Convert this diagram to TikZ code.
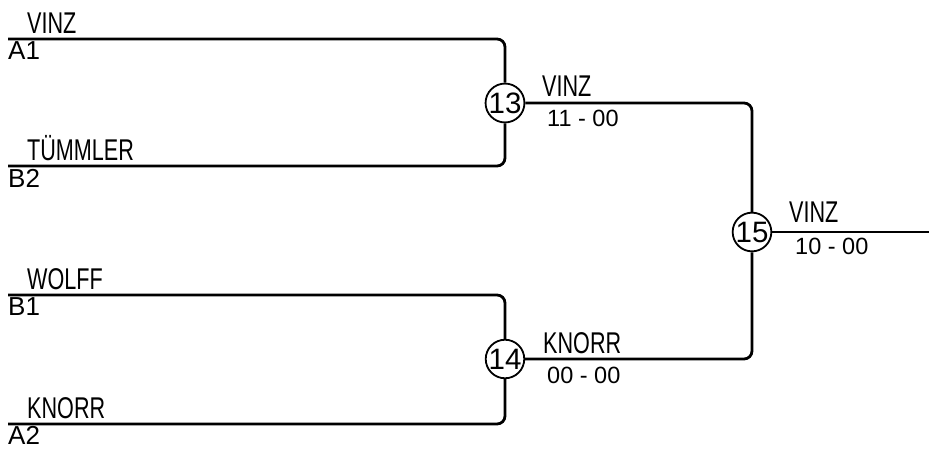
\documentclass[tikz,border=0pt]{standalone}
\usepackage{fontspec}
\setmainfont{Liberation Sans}
\newfontfamily\condfont[FakeStretch=0.72]{Liberation Sans}
\begin{document}
\begin{tikzpicture}[x=1pt,y=-1pt,
  conn/.style={line width=2.8pt, rounded corners=8pt},
  seed/.style={circle, draw, line width=1.8pt, fill=white, minimum size=37pt, inner sep=0pt, font=\fontsize{29.5}{29.5}\selectfont},
  team/.style={anchor=base west, inner sep=0pt, font=\condfont\fontsize{30}{30}\selectfont},
  slot/.style={anchor=base west, inner sep=0pt, font=\fontsize{26}{26}\selectfont},
  score/.style={anchor=base west, inner sep=0pt, font=\fontsize{23.5}{23.5}\selectfont}]
\useasboundingbox (0,0) rectangle (929,448);
% match circles
\node[seed] (m13) at (505,103) {13};
\node[seed] (m14) at (505,359) {14};
\node[seed] (m15) at (752,232) {15};
% line ends
\coordinate (a1) at (8,39);
\coordinate (b2) at (8,166);
\coordinate (b1) at (8,295);
\coordinate (a2) at (8,424);
\coordinate (fin) at (929,232);
% connectors
\draw[conn] (a1) -| (m13);
\draw[conn] (b2) -| (m13);
\draw[conn] (b1) -| (m14);
\draw[conn] (a2) -| (m14);
\draw[conn] (m13.east) -| (m15);
\draw[conn] (m14.east) -| (m15);
\draw[conn] (m15.east) -- (fin);
% left labels
\node[team] (t1) at (27,33) {VINZ};
\node[slot] (s1) at (8,59) {A1};
\node[team] (t2) at (27,160) {TÜMMLER};
\node[slot] (s2) at (8,187) {B2};
\node[team] (t3) at (27,289) {WOLFF};
\node[slot] (s3) at (8,315) {B1};
\node[team] (t4) at (27,418) {KNORR};
\node[slot] (s4) at (8,444) {A2};
% winners and scores
\node[team] (w13) at (542,96) {VINZ};
\node[score] (r13) at (547,126) {11 - 00};
\node[team] (w14) at (543,353) {KNORR};
\node[score] (r14) at (547,383) {00 - 00};
\node[team] (w15) at (789,222) {VINZ};
\node[score] (r15) at (795,254) {10 - 00};
\end{tikzpicture}
\end{document}
